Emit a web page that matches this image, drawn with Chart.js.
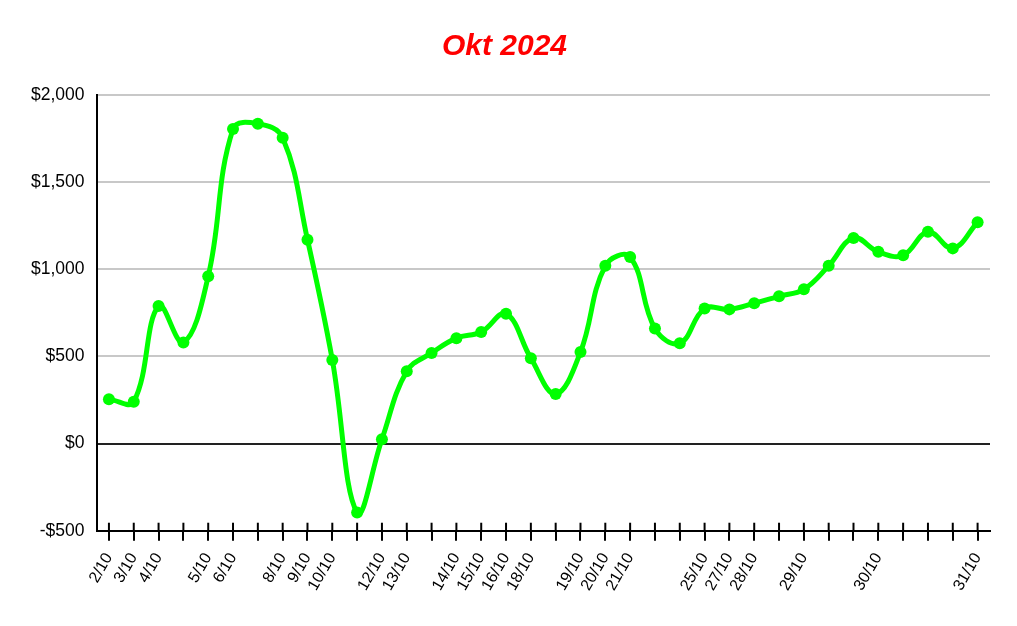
<!DOCTYPE html>
<html>
<head>
<meta charset="utf-8">
<script src="https://cdn.jsdelivr.net/npm/chart.js@4.4.1/dist/chart.umd.min.js"></script>
<style>
  html, body { margin: 0; padding: 0; background: #fff; }
  #wrap { width: 1017px; height: 626px; position: relative; }
</style>
</head>
<body>
<div id="wrap"><canvas id="pnlChart"></canvas></div>
<script>
// Tick labels under the x axis (blank where the reference shows no label)
const dayLabels = [
  '2/10', '3/10', '4/10', '', '5/10', '6/10', '', '8/10', '9/10', '10/10',
  '', '12/10', '13/10', '', '14/10', '15/10', '16/10', '18/10', '', '19/10',
  '20/10', '21/10', '', '', '25/10', '27/10', '28/10', '', '29/10', '',
  '', '30/10', '', '', '', '31/10'
];

// Running balance
const balance = [
  255, 240, 790, 580, 960, 1805, 1835, 1755, 1170, 480,
  -395, 25, 415, 520, 605, 640, 745, 490, 285, 525,
  1020, 1070, 660, 575, 775, 770, 805, 845, 885, 1020,
  1180, 1100, 1080, 1215, 1120, 1270
];

// y axis range
const yMin = -500;
const yMax = 2000;
const yStep = 500;

const titleText = 'Okt 2024';

// little marks crossing the x axis line, above it as well as below
const crossTicks = {
  id: 'crossTicks',
  afterDraw(chart) {
    const x = chart.scales.x;
    const ctx = chart.ctx;
    const bottom = chart.chartArea.bottom;
    ctx.save();
    ctx.strokeStyle = '#000';
    ctx.lineWidth = 2;
    for (let i = 0; i < x.ticks.length; i++) {
      const px = x.getPixelForTick(i);
      ctx.beginPath();
      ctx.moveTo(px, bottom - 8);
      ctx.lineTo(px, bottom);
      ctx.stroke();
    }
    ctx.restore();
  }
};

const money = v => (v < 0 ? '-$' : '$') + Math.abs(v).toLocaleString('en-US');

const ctx = document.getElementById('pnlChart').getContext('2d');
new Chart(ctx, {
  type: 'line',
  data: {
    labels: dayLabels,
    datasets: [{
      data: balance,
      borderColor: '#00ff00',
      backgroundColor: '#00ff00',
      borderWidth: 5,
      tension: 0.4,
      pointRadius: 6,
      pointBorderWidth: 0,
      pointBackgroundColor: '#00ff00',
      fill: false
    }]
  },
  options: {
    responsive: true,
    maintainAspectRatio: false,
    animation: false,
    layout: { padding: { left: 19, right: 27, bottom: 23 } },
    plugins: {
      legend: { display: false },
      tooltip: { enabled: false },
      title: {
        display: true,
        text: titleText,
        color: '#ff0000',
        font: { family: 'Liberation Sans', size: 30, weight: 'bold', style: 'italic' },
        padding: { top: 29, bottom: 30 }
      }
    },
    scales: {
      x: {
        offset: true,
        border: { display: true, color: '#000', width: 2 },
        grid: {
          drawOnChartArea: false,
          drawTicks: true,
          tickLength: 10,
          color: '#000',
          lineWidth: 2
        },
        ticks: {
          autoSkip: false,
          minRotation: 60,
          maxRotation: 60,
          color: '#000',
          padding: 9,
          font: { family: 'Liberation Sans', size: 16 }
        }
      },
      y: {
        min: yMin,
        max: yMax,
        border: { display: true, color: '#000', width: 2 },
        grid: {
          drawTicks: false,
          color: c => (c.tick && c.tick.value === 0 ? '#222222' : '#c8c8c8'),
          lineWidth: 2
        },
        ticks: {
          stepSize: yStep,
          padding: 12,
          color: '#000',
          font: { family: 'Liberation Sans', size: 17.5 },
          callback: v => money(v)
        }
      }
    }
  },
  plugins: [crossTicks]
});
</script>
</body>
</html>
